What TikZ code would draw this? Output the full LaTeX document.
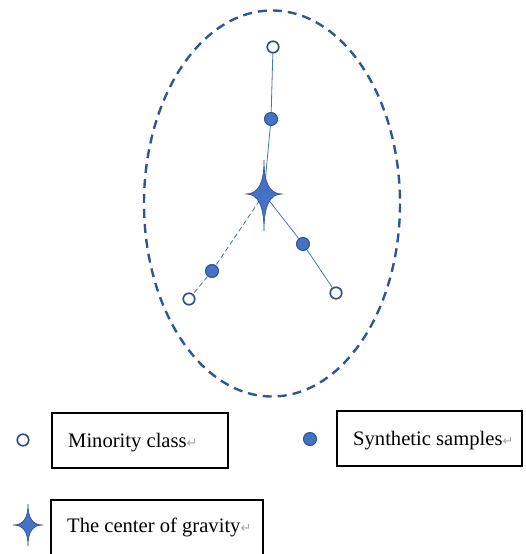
\documentclass[tikz,border=0pt]{standalone}
\usepackage{fontspec}
\setmainfont{Liberation Serif}
\newfontfamily\symfont{DejaVu Sans}
\definecolor{darkblue}{HTML}{2F5597}
\definecolor{midblue}{HTML}{4472C4}
\definecolor{edgeblue}{HTML}{2F528F}
\tikzset{
  minority/.style={circle, draw=edgeblue, line width=1.7pt, fill=white, minimum size=11.5pt, inner sep=0pt},
  synth/.style={circle, draw=edgeblue, line width=1pt, fill=midblue, minimum size=13pt, inner sep=0pt},
  link/.style={draw=midblue, line width=0.8pt},
  legendbox/.style={draw=black, line width=1.1pt, inner sep=0pt},
  legendtext/.style={anchor=base west, inner sep=0pt, font=\fontsize{20.6}{24}\selectfont},
}
% #1 centre, #2 half width, #3 up, #4 down
\newcommand{\gravstar}[4]{%
  \fill[midblue, draw=edgeblue, line width=0.6pt] (#1) ++(0,-#3)
    .. controls ++(0,0.68*#3) and ++(-0.68*#2,0) .. ++(#2,#3)
    .. controls ++(-0.68*#2,0) and ++(0,-0.68*#4) .. ++(-#2,#4)
    .. controls ++(0,-0.68*#4) and ++(0.68*#2,0) .. ++(-#2,-#4)
    .. controls ++(0.68*#2,0) and ++(0,0.68*#3) .. cycle;}
\newcommand{\ret}{{\symfont\color{gray!70}\fontsize{13}{13}\selectfont ↵}}
\begin{document}
\begin{tikzpicture}[x=1pt,y=-1pt]
\useasboundingbox (0,0) rectangle (526,554);
% ellipse
\draw[darkblue, line width=2.4pt, dash pattern=on 9pt off 6pt] (272,203.5) ellipse [x radius=128, y radius=193];
% points
\coordinate (g) at (264,194);
\node[minority] (m1) at (273,47) {};
\node[minority] (m2) at (336,293) {};
\node[minority] (m3) at (189,299) {};
\node[synth] (s1) at (271,119) {};
\node[synth] (s2) at (303,244) {};
\node[synth] (s3) at (212,271) {};
% connectors
\draw[link] (g) -- (s1);
\draw[link] (s1) -- (m1);
\draw[link] (g) -- (s2);
\draw[link] (s2) -- (m2);
\draw[link, dash pattern=on 5pt off 3pt] (g) -- (s3);
\draw[link, dash pattern=on 5pt off 3pt] (s3) -- (m3);
\gravstar{g}{18}{34}{37}
% legend
\node[minority] (lm) at (23,440) {};
\node[legendbox, minimum width=176pt, minimum height=55pt] (b1) at (140,440.5) {};
\node[legendtext] (t1) at (68,447) {Minority class\ret};
\node[synth] (ls) at (310,439) {};
\node[legendbox, minimum width=185pt, minimum height=55pt] (b2) at (429.5,438.5) {};
\node[legendtext] (t2) at (353,445) {Synthetic samples\ret};
\coordinate (lg) at (28,525);
\gravstar{lg}{15}{21}{21}
\node[legendbox, minimum width=212pt, minimum height=58pt] (b3) at (157,529) {};
\node[legendtext] (t3) at (67,532) {The center of gravity\ret};
\end{tikzpicture}
\end{document}
